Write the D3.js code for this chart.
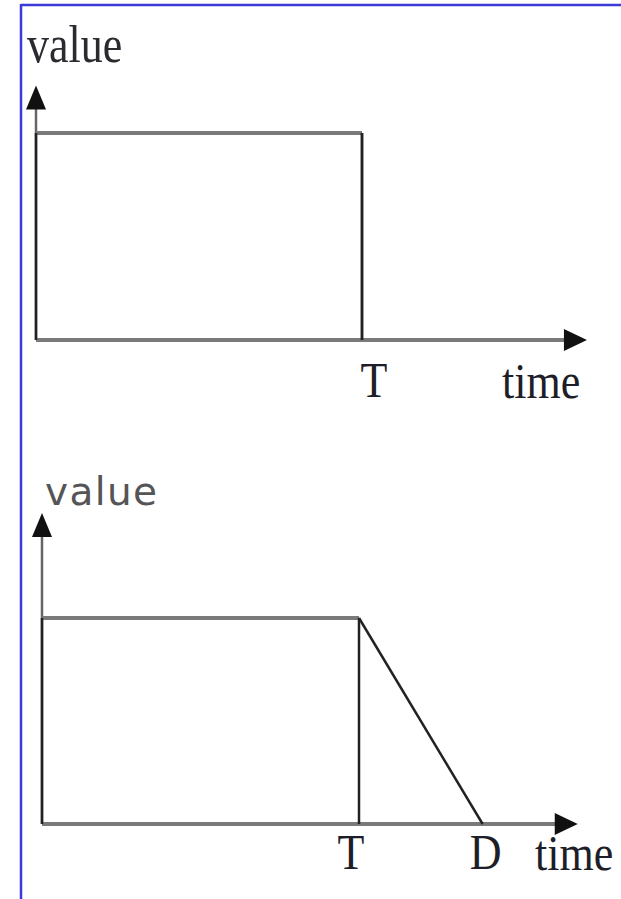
<!DOCTYPE html>
<html>
<head>
<meta charset="utf-8">
<script src="https://cdn.jsdelivr.net/npm/d3@7"></script>
<style>
  html, body { margin: 0; padding: 0; background: #fff; }
  svg { display: block; }
</style>
</head>
<body>
<div id="chart"></div>
<script>
// ---------- data ----------
// time positions (in units of T)
const markNames = ["T", "D"];
const markTimes = [1, 1.39];
const axisEndTime = 1.69;
const axisEndValue = 1.23;
const axisEndValue2 = 1.51;
// top panel: step signal (value 1 until T, then 0)
const stepTimes = [0, 1, 1];
const stepValues = [1, 1, 0];
// bottom panel: linear decay from T to D
const decayTimes = [0, 1, 1.39];
const decayValues = [1, 1, 0];
const axisLabelY = "value";
const axisLabelX = "time";

const W = 621, H = 899;
const svg = d3.select("#chart").append("svg").attr("width", W).attr("height", H);

// frame (blue left and top border)
svg.append("line").attr("x1", 21).attr("y1", 5).attr("x2", W).attr("y2", 5)
  .attr("stroke", "#3a3ad8").attr("stroke-width", 2.5);
svg.append("line").attr("x1", 21).attr("y1", 4).attr("x2", 21).attr("y2", H)
  .attr("stroke", "#3a3ad8").attr("stroke-width", 2.5);

const serif = "'Liberation Serif', 'DejaVu Serif', serif";

function panel(cfg) {
  const x = d3.scaleLinear().domain([0, 1]).range([cfg.x0, cfg.xT]);
  const y = d3.scaleLinear().domain([0, 1]).range([cfg.y0, cfg.y1]);
  const g = svg.append("g");

  const axisEndX = x(axisEndTime);
  const axisTopY = y(cfg.axisEndValue);

  // y axis
  g.append("line").attr("x1", x(0)).attr("x2", x(0))
    .attr("y1", y(0)).attr("y2", axisTopY + 20)
    .attr("stroke", "#666").attr("stroke-width", 2.5);
  // x axis
  g.append("line").attr("x1", x(0)).attr("x2", axisEndX - 18)
    .attr("y1", y(0)).attr("y2", y(0))
    .attr("stroke", "#7a7a7a").attr("stroke-width", 4);
  // arrowheads
  g.append("path")
    .attr("d", `M${x(0)},${axisTopY} L${x(0) - 10},${axisTopY + 24} L${x(0) + 10},${axisTopY + 24} Z`)
    .attr("fill", "#111");
  g.append("path")
    .attr("d", `M${axisEndX},${y(0)} L${axisEndX - 23},${y(0) - 11} L${axisEndX - 23},${y(0) + 11} Z`)
    .attr("fill", "#111");

  // signal
  const pts = cfg.times.map((t, i) => [x(t), y(cfg.values[i])]);
  // horizontal segment (thick gray)
  g.append("line").attr("x1", pts[0][0]).attr("y1", pts[0][1])
    .attr("x2", pts[1][0]).attr("y2", pts[1][1])
    .attr("stroke", "#7a7a7a").attr("stroke-width", 4);
  // vertical at t=0 (left edge of the block)
  g.append("line").attr("x1", x(0)).attr("y1", y(1))
    .attr("x2", x(0)).attr("y2", y(0))
    .attr("stroke", "#222").attr("stroke-width", 2.5);
  // vertical at T
  g.append("line").attr("x1", x(markTimes[0])).attr("y1", y(1))
    .attr("x2", x(markTimes[0])).attr("y2", y(0))
    .attr("stroke", "#222").attr("stroke-width", 2.5);
  // falling segment
  g.append("line").attr("x1", pts[1][0]).attr("y1", pts[1][1])
    .attr("x2", pts[2][0]).attr("y2", pts[2][1])
    .attr("stroke", "#222").attr("stroke-width", 2.5);

  // labels
  function serifText(txt, cx, baseline, anchor) {
    g.append("text")
      .attr("transform", `translate(${cx},${baseline}) scale(1,1.16)`)
      .attr("text-anchor", anchor || "middle")
      .attr("font-family", serif).attr("font-size", 44)
      .attr("fill", "#1e1e28").text(txt);
  }
  cfg.marks.forEach(m => serifText(markNames[m], x(markTimes[m]) + cfg.markDx[m], cfg.labelBase, "middle"));
  serifText(axisLabelX, cfg.timeX, cfg.labelBase + 1, "start");

  if (cfg.serifValue) {
    g.append("text")
      .attr("transform", `translate(27,62) scale(1,1.22)`)
      .attr("font-family", serif).attr("font-size", 44)
      .attr("fill", "#2a2a30").text(axisLabelY);
  } else {
    g.append("text")
      .attr("x", 45).attr("y", 505)
      .attr("font-family", "'DejaVu Sans', 'Open Sans', sans-serif")
      .attr("font-size", 39)
      .attr("textLength", 112).attr("lengthAdjust", "spacing")
      .attr("fill", "#555").text(axisLabelY);
  }
}

panel({ x0: 36, xT: 362, y0: 340, y1: 133, axisEndValue: axisEndValue,
  times: stepTimes, values: stepValues, marks: [0], markDx: [12],
  labelBase: 397, timeX: 502, serifValue: true });

panel({ x0: 42, xT: 359, y0: 824, y1: 618, axisEndValue: axisEndValue2,
  times: decayTimes, values: decayValues, marks: [0, 1], markDx: [-8, 3],
  labelBase: 869, timeX: 535, serifValue: false });
</script>
</body>
</html>
